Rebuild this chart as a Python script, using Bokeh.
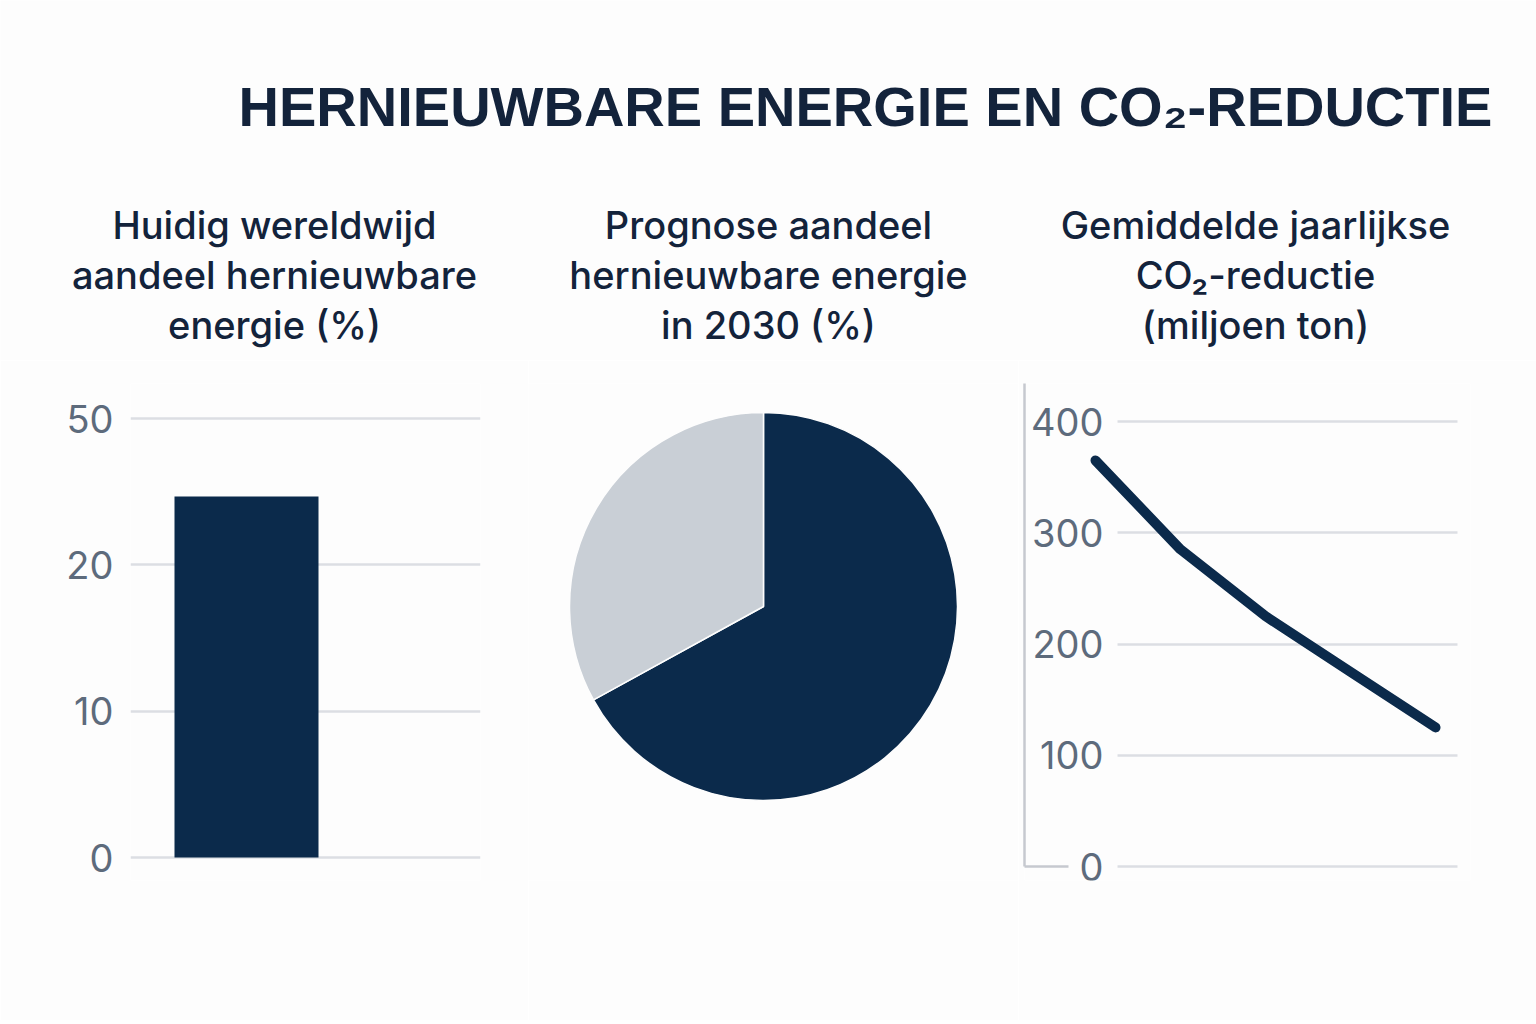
import numpy as np
from bokeh.plotting import figure
from bokeh.layouts import column, row
from bokeh.models import Range1d, FixedTicker, LinearAxis
from bokeh.core.properties import value
from bokeh.embed import file_html
from bokeh.resources import INLINE

# ---------------- data ----------------
main_title = "HERNIEUWBARE ENERGIE EN CO₂-REDUCTIE"
panel_titles = [
    ["Huidig wereldwijd", "aandeel hernieuwbare", "energie (%)"],
    ["Prognose aandeel", "hernieuwbare energie", "in 2030 (%)"],
    ["Gemiddelde jaarlijkse", "CO₂-reductie", "(miljoen ton)"],
]

bar_categories = ["Huidig aandeel"]
bar_values = [34]
bar_ticks = [0, 10, 20, 50]

pie_labels = ["Hernieuwbaar", "Overig"]
pie_shares = [67, 33]

line_steps = [0, 1, 2, 3, 4]
line_values = [365, 285, 225, 175, 125]
line_ticks = [0, 100, 200, 300, 400]

# ---------------- style ----------------
NAVY = "#0b2a4b"
SLICE_GREY = "#c9cfd6"
TITLE_COLOR = "#13233b"
TICK_COLOR = "#5d6b7c"
GRID_COLOR = "#dcdee3"
AXIS_COLOR = "#c6c9cf"
BG = "#fdfdfd"
FONT = "Inter"
TITLE_FONT = "Liberation Sans"

TOTAL_W = 1536
HDR_H = 360
PANEL_TOP = HDR_H
PANEL_H = 660
FR_TOP, FR_BOTTOM = 383, 880          # shared frame top/bottom of the three panels
BORDER_TOP = FR_TOP - PANEL_TOP
BORDER_BOTTOM = PANEL_TOP + PANEL_H - FR_BOTTOM
FR_H = FR_BOTTOM - FR_TOP


def base_fig(**kw):
    return figure(output_backend="svg", toolbar_location=None, title=None,
                  background_fill_color=BG, border_fill_color=BG,
                  outline_line_color=None, **kw)


# ---------------- header ----------------
hdr = base_fig(frame_width=TOTAL_W, frame_height=HDR_H,
               x_range=Range1d(0, TOTAL_W), y_range=Range1d(HDR_H, 0),
               x_axis_location=None, y_axis_location=None, min_border=0)
hdr.grid.visible = False
hdr.text(x=[865], y=[106], text=[main_title], text_font=value(TITLE_FONT),
         text_font_style="bold", text_font_size="56px", text_color=TITLE_COLOR,
         text_align="center", text_baseline="alphabetic")

centers = [274, 768, 1255]
tx, ty, tt = [], [], []
for c, lines in zip(centers, panel_titles):
    for j, ln in enumerate(lines):
        tx.append(c)
        ty.append(224 + 50 * j)
        tt.append(ln)
hdr.text(x=tx, y=ty, text=tt, text_font=value("Inter Medium"), text_font_size="38px",
         text_color=TITLE_COLOR, text_align="center", text_baseline="alphabetic")

# ---------------- panel 1: bar ----------------
W1 = 528
fr1_left, fr1_right = 130, 480
y0_px, ytop_px = 857, 418
pos = np.arange(len(bar_ticks), dtype=float)
ppu1 = (y0_px - ytop_px) / pos[-1]
y1_start = -(FR_BOTTOM - y0_px) / ppu1
y1_end = pos[-1] + (ytop_px - FR_TOP) / ppu1
bar_l_px, bar_r_px = 174, 318
xppu1 = bar_r_px - bar_l_px
x1_start = -0.5 - (bar_l_px - fr1_left) / xppu1
x1_end = x1_start + (fr1_right - fr1_left) / xppu1

p1 = base_fig(frame_width=fr1_right - fr1_left, frame_height=FR_H,
              x_range=Range1d(x1_start, x1_end), y_range=Range1d(y1_start, y1_end),
              x_axis_location=None, y_axis_location="left",
              min_border_left=fr1_left, min_border_right=W1 - fr1_right,
              min_border_top=BORDER_TOP, min_border_bottom=BORDER_BOTTOM)
bar_pos = np.interp(bar_values, bar_ticks, pos)
p1.vbar(x=list(range(len(bar_categories))), top=bar_pos, bottom=0, width=1.0,
        fill_color=NAVY, line_color=None)
ax = p1.yaxis[0]
ax.ticker = FixedTicker(ticks=list(pos))
ax.major_label_overrides = {int(k): str(t) for k, t in zip(pos, bar_ticks)}
ax.axis_line_color = None
ax.major_tick_line_color = None
ax.minor_tick_line_color = None
ax.major_tick_in = 0
ax.major_tick_out = 0
ax.major_label_standoff = 17
ax.major_label_text_font = FONT
ax.major_label_text_font_size = "38px"
ax.major_label_text_color = TICK_COLOR
p1.xgrid.visible = False
p1.ygrid.ticker = FixedTicker(ticks=list(pos))
p1.ygrid.grid_line_color = GRID_COLOR
p1.ygrid.grid_line_width = 2.5

# ---------------- panel 2: pie ----------------
W2 = 490
p2_left = W1
cx_px, cy_px, r_px = 763, 606, 194
x2_start = -(cx_px - p2_left) / r_px
x2_end = x2_start + W2 / r_px
y2_end = (cy_px - FR_TOP) / r_px
y2_start = y2_end - FR_H / r_px
p2 = base_fig(frame_width=W2, frame_height=FR_H,
              x_range=Range1d(x2_start, x2_end), y_range=Range1d(y2_start, y2_end),
              x_axis_location=None, y_axis_location=None,
              min_border_left=0, min_border_right=0,
              min_border_top=BORDER_TOP, min_border_bottom=BORDER_BOTTOM)
p2.grid.visible = False
shares = np.array(pie_shares, dtype=float)
cum = np.cumsum(shares) / shares.sum()
prev = np.concatenate([[0.0], cum[:-1]])
start_a = np.pi / 2 - 2 * np.pi * prev
end_a = np.pi / 2 - 2 * np.pi * cum
p2.wedge(x=0, y=0, radius=1, start_angle=start_a, end_angle=end_a, direction="clock",
         fill_color=[NAVY, SLICE_GREY], line_color=BG, line_width=1.5)

# ---------------- panel 3: line ----------------
W3 = TOTAL_W - W1 - W2
p3_left = W1 + W2
fr3_left, fr3_right = 1024, 1470
v0_px, v400_px = 866, 421
ppu3 = (v0_px - v400_px) / line_ticks[-1]
y3_start = -(FR_BOTTOM - v0_px) / ppu3
y3_end = (v0_px - FR_TOP) / ppu3
lx0_px, lx1_px = 1095, 1435
xppu3 = (lx1_px - lx0_px) / (line_steps[-1] - line_steps[0])
x3_start = line_steps[0] - (lx0_px - fr3_left) / xppu3
x3_end = x3_start + (fr3_right - fr3_left) / xppu3
grid_x0 = line_steps[0] + (1117 - lx0_px) / xppu3
grid_x1 = line_steps[0] + (1457 - lx0_px) / xppu3

p3 = base_fig(frame_width=fr3_right - fr3_left, frame_height=FR_H,
              x_range=Range1d(x3_start, x3_end), y_range=Range1d(y3_start, y3_end),
              x_axis_location=None, y_axis_location="left",
              min_border_left=fr3_left - p3_left, min_border_right=p3_left + W3 - fr3_right,
              min_border_top=BORDER_TOP, min_border_bottom=BORDER_BOTTOM)
axb = p3.yaxis[0]
axb.ticker = FixedTicker(ticks=[0])
axb.major_label_overrides = {0: ""}
axb.bounds = (0, y3_end)
axb.axis_line_color = AXIS_COLOR
axb.axis_line_width = 2.5
axb.major_tick_line_color = AXIS_COLOR
axb.major_tick_line_width = 2.5
axb.major_tick_in = 44
axb.major_tick_out = 0
axb.minor_tick_line_color = None
axb.major_label_standoff = 0

axa = LinearAxis(fixed_location=grid_x0, ticker=FixedTicker(ticks=line_ticks),
                 axis_line_color=None, major_tick_line_color=None, minor_tick_line_color=None,
                 major_tick_in=0, major_tick_out=0, major_label_standoff=14,
                 major_label_text_font=FONT, major_label_text_font_size="38px",
                 major_label_text_color=TICK_COLOR)
p3.add_layout(axa, "left")

p3.xgrid.visible = False
g = p3.ygrid[0]
g.ticker = FixedTicker(ticks=line_ticks)
g.grid_line_color = GRID_COLOR
g.grid_line_width = 2.5
if "cross_bounds" in g.properties():
    g.cross_bounds = (grid_x0, grid_x1)

p3.line(x=line_steps, y=line_values, line_width=10, line_color=NAVY,
        line_cap="round", line_join="round")

layout = column(hdr, row(p1, p2, p3, spacing=0), spacing=0)
open("out.html", "w").write(file_html(layout, INLINE))
